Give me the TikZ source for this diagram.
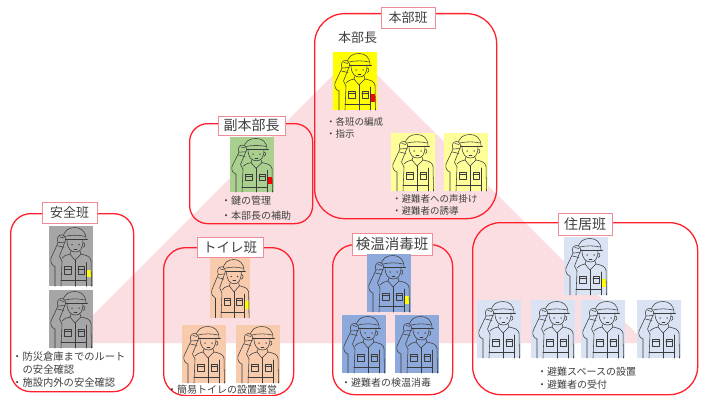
\documentclass[tikz,border=0pt]{standalone}
\usepackage{fontspec}
\setmainfont{Noto Sans CJK JP}
\definecolor{boxred}{RGB}{255,32,44}
\definecolor{tagpink}{RGB}{240,140,152}
\definecolor{pyramid}{RGB}{251,222,226}
\definecolor{ink}{RGB}{64,64,64}
\definecolor{lineart}{RGB}{60,60,60}
\definecolor{chiefyellow}{RGB}{255,255,0}
\definecolor{paleyellow}{RGB}{255,255,153}
\definecolor{deputygreen}{RGB}{169,208,142}
\definecolor{safetygray}{RGB}{166,166,166}
\definecolor{toiletpeach}{RGB}{248,203,173}
\definecolor{checkblue}{RGB}{142,169,219}
\definecolor{houseblue}{RGB}{218,227,243}
\definecolor{armred}{RGB}{255,0,0}
\definecolor{armyellow}{RGB}{255,255,0}

\tikzset{
  teambox/.style={draw=boxred, line width=1.3, rounded corners=#1, anchor=north west, inner sep=0},
  tag/.style={draw=tagpink, fill=white, line width=0.8, text=ink, inner sep=0,
    minimum width=#1, align=center},
  duty/.style={anchor=west, inner sep=0, text=ink, font=\fontsize{10}{12}\selectfont},
  % a saluting worker in a 44 x 58 tile; #1 tile colour, #2 armband colour
  pics/worker/.style n args={2}{code={
    \fill[#1] (0,0) rectangle (44,58);
    \fill[#2] (37.2,42) rectangle (42.3,49.5);
    \begin{scope}[draw=lineart, line width=0.55, line cap=round, line join=round]
      % helmet
      \draw (14,13) .. controls (14,4) and (20,1.5) .. (26,1.5) .. controls (32,1.5) and (37,5) .. (37,13);
      \draw (12.5,13) -- (38.5,13);
      \draw (16,10) .. controls (22,8.5) and (30,8.5) .. (36,10);
      % face
      \draw (18,13) .. controls (18,22) and (22,25) .. (26.5,25) .. controls (31,25) and (34,22) .. (34,13);
      \draw (34,16) .. controls (36.5,16) and (36.5,20) .. (34,20.5);
      \fill[lineart] (23,18) circle (0.75) (30,18) circle (0.75);
      \draw (25,22) -- (28,22);
      % raised arm and hand
      \draw (9,16) -- (2,31) .. controls (1,35) and (3,38) .. (6,39) -- (6,58);
      \draw (16,15) -- (10.5,29) .. controls (11.5,31) and (12.5,32) .. (13,34) -- (12,58);
      \draw (8.5,19) -- (15,20.5);
      \draw[fill=#1] (9,16) .. controls (7,12) and (9.5,8) .. (13,8.5) .. controls (16,9) and (17.5,12.5) .. (16,15.5) -- cycle;
      \draw (11,10.5) -- (15,11.5);
      % neck, collar and shoulders
      \draw (22,24) -- (21,27) (31,24) -- (32,27);
      \draw (21,27) -- (26,33) -- (32,27);
      \draw (21,27) .. controls (17,28) and (14,29) .. (13,31);
      \draw (32,27) .. controls (37,28) and (41,29) .. (42,33) -- (42.5,58);
      \draw (37,35) -- (37,58);
      % jacket details
      \draw (26,33) -- (26,58);
      \draw (15.5,39) rectangle (22,46) (15.5,41.5) -- (22,41.5);
      \draw (29,39) rectangle (35.5,46) (29,41.5) -- (35.5,41.5);
      \draw (12,52.5) -- (37,52.5);
    \end{scope}
  }}
}

\begin{document}
\begin{tikzpicture}[x=1pt, y=-1pt]
\useasboundingbox (0,0) rectangle (704,396);
\fill[white] (0,0) rectangle (704,396);

% background pyramid
\fill[pyramid] (355,53) -- (65,343) -- (646,343) -- cycle;

% team frames
\node[teambox=30, minimum width=182, minimum height=205] (honbu) at (314,13) {};
\node[teambox=18, minimum width=123, minimum height=100] (fuku) at (189,123) {};
\node[teambox=20, minimum width=123, minimum height=178] (anzen) at (10,213) {};
\node[teambox=22, minimum width=130, minimum height=148] (toire) at (163,247) {};
\node[teambox=22, minimum width=120, minimum height=150] (kenon) at (332,244) {};
\node[teambox=28, minimum width=225, minimum height=172] (jukyo) at (472,222) {};

% team titles
\node[tag=54, minimum height=21, font=\fontsize{13}{13}\selectfont] (honbuT) at (408,17.5) {本部班};
\node[tag=67, minimum height=19, font=\fontsize{14}{14}\selectfont] (fukuT) at (251.5,125.5) {副本部長};
\node[tag=55, minimum height=21, font=\fontsize{13}{13}\selectfont] (anzenT) at (69.5,212.5) {安全班};
\node[tag=66, minimum height=20, font=\fontsize{13.5}{13.5}\selectfont] (toireT) at (230,247) {トイレ班};
\node[tag=80, minimum height=22, font=\fontsize{14.5}{14.5}\selectfont] (kenonT) at (392,244) {検温消毒班};
\node[tag=54, minimum height=22, font=\fontsize{14}{14}\selectfont] (jukyoT) at (585,224) {住居班};

\node[text=ink, inner sep=0, font=\fontsize{13}{13}\selectfont] (chief) at (357.5,38) {本部長};

% workers
\pic at (333,52) {worker={chiefyellow}{armred}};
\pic at (391,133) {worker={paleyellow}{paleyellow}};
\pic at (444,133) {worker={paleyellow}{paleyellow}};

\pic[yscale=0.95] at (230,137) {worker={deputygreen}{armred}};

\pic[yscale=1.04] at (49,226) {worker={safetygray}{armyellow}};
\pic at (49,290) {worker={safetygray}{safetygray}};

\pic[xscale=0.92, yscale=1.03] at (210,258) {worker={toiletpeach}{armyellow}};
\pic at (182,325) {worker={toiletpeach}{toiletpeach}};
\pic at (236,325) {worker={toiletpeach}{toiletpeach}};

\pic at (367,254) {worker={checkblue}{armyellow}};
\pic at (342,315) {worker={checkblue}{checkblue}};
\pic at (395,315) {worker={checkblue}{checkblue}};

\pic at (564,237) {worker={houseblue}{armyellow}};
\pic at (477,300) {worker={houseblue}{houseblue}};
\pic at (531,300) {worker={houseblue}{houseblue}};
\pic at (581,300) {worker={houseblue}{houseblue}};
\pic at (637,300) {worker={houseblue}{houseblue}};

% duties
\node[duty, font=\fontsize{9.5}{11}\selectfont] (d1) at (326,122) {・各班の編成};
\node[duty, font=\fontsize{9.5}{11}\selectfont] (d2) at (326,133.5) {・指示};
\node[duty, font=\fontsize{9.5}{11}\selectfont] (d3) at (392,199) {・避難者への声掛け};
\node[duty, font=\fontsize{9.5}{11}\selectfont] (d4) at (392,211) {・避難者の誘導};
\node[duty] (d5) at (221,201) {・鍵の管理};
\node[duty] (d6) at (221,216) {・本部長の補助};
\node[duty, font=\fontsize{10.3}{12}\selectfont] (d7) at (12,357) {・防災倉庫までのルート};
\node[duty, font=\fontsize{10.3}{12}\selectfont] (d8) at (22.5,370) {の安全確認};
\node[duty, font=\fontsize{10.3}{12}\selectfont] (d9) at (12,383) {・施設内外の安全確認};
\node[duty] (d10) at (167,390) {・簡易トイレの設置運営};
\node[duty] (d11) at (341,383) {・避難者の検温消毒};
\node[duty] (d12) at (537,372) {・避難スペースの設置};
\node[duty] (d13) at (537,385) {・避難者の受付};
\end{tikzpicture}
\end{document}
